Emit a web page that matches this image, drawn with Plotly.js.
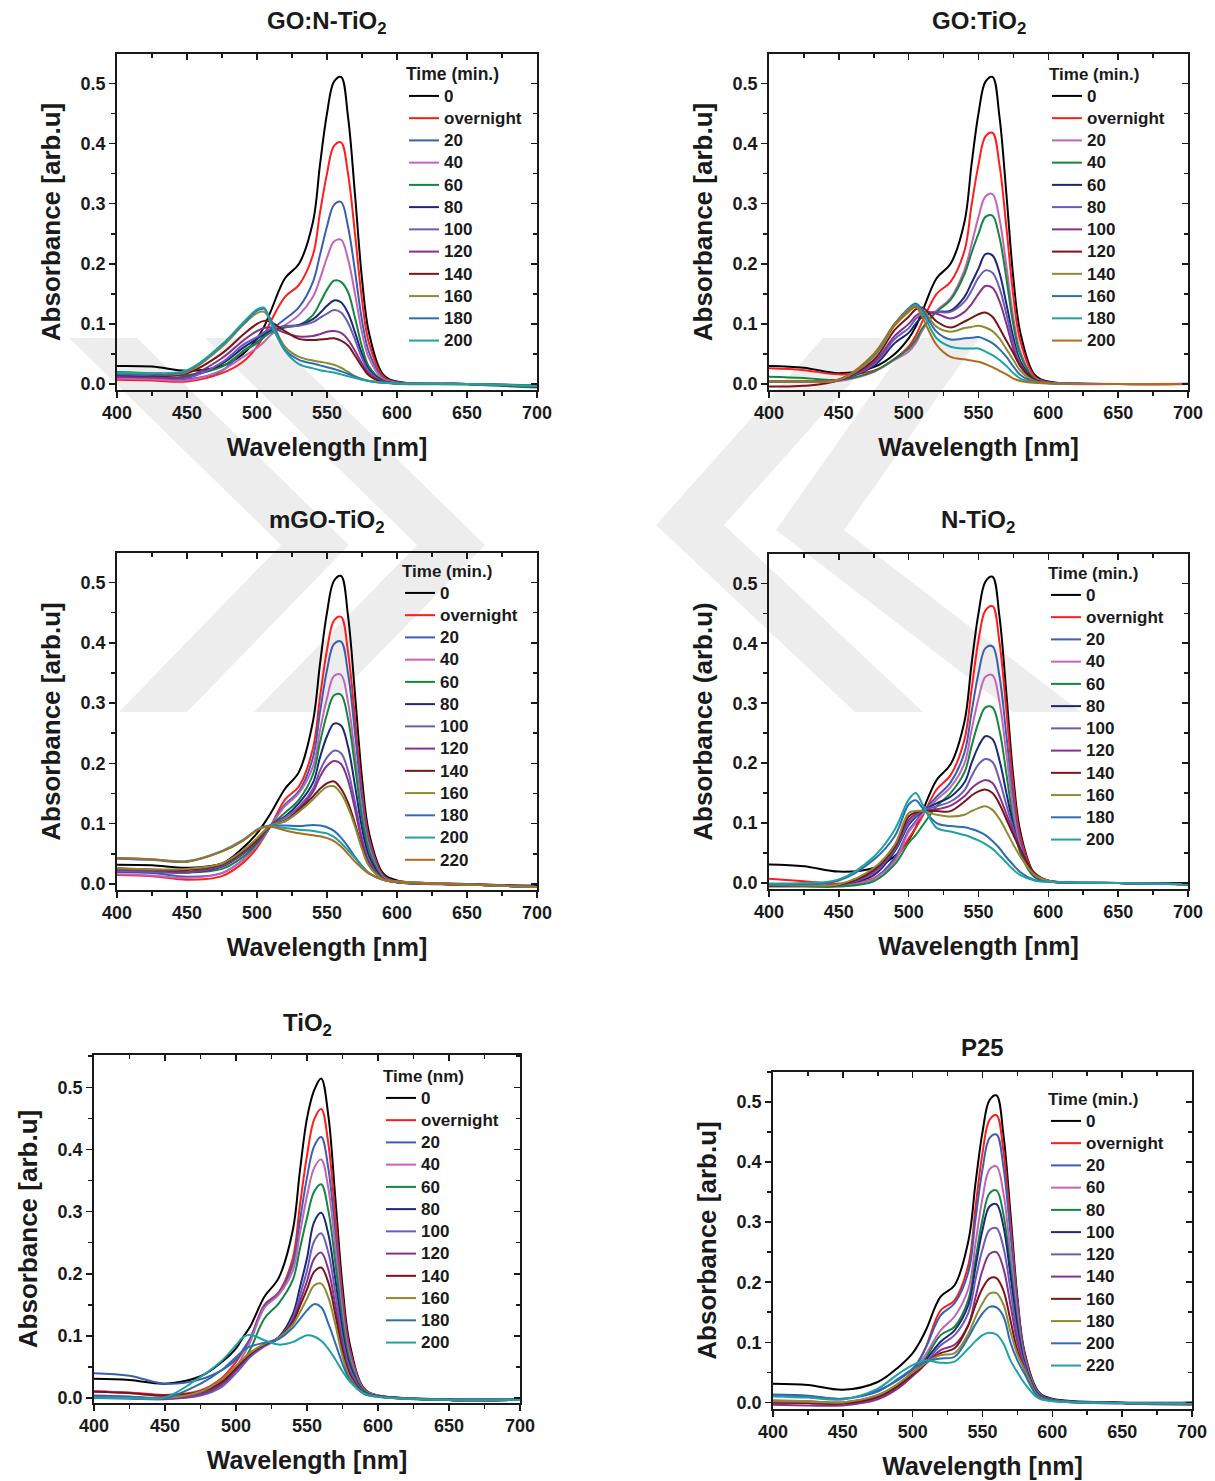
<!DOCTYPE html>
<html>
<head>
<meta charset="utf-8">
<script src="https://cdn.plot.ly/plotly-3.0.1.min.js"></script>
<style>
html,body{margin:0;padding:0;background:#fff}
#chart{width:1215px;height:1481px}
/* legend rows are spaced for a 14.8px font; glyphs are drawn a little larger, as in the original figure */
text.legendtext{font-size:17px !important}
text.legendtitletext{font-size:17.5px !important}
</style>
</head>
<body>
<div id="chart"></div>
<script>
// Wavelength grid (nm)
const WL = [400,425,450,475,490,500,505,510,520,530,540,545,550,555,560,565,570,575,580,590,600,650,700];

// ---- GO:N-TiO2 ----
const P1_LABELS = ['0','overnight','20','40','60','80','100','120','140','160','180','200'];
const P1_0   = [0.030,0.029,0.022,0.030,0.050,0.076,0.095,0.122,0.176,0.200,0.270,0.365,0.450,0.503,0.511,0.445,0.315,0.175,0.085,0.016,0.004,0.000,-0.002];
const P1_ov  = [0.007,0.006,0.004,0.018,0.037,0.062,0.081,0.105,0.145,0.165,0.215,0.285,0.350,0.396,0.402,0.350,0.250,0.140,0.068,0.013,0.003,0.000,-0.004];
const P1_20  = [0.010,0.009,0.008,0.022,0.055,0.070,0.080,0.090,0.108,0.128,0.170,0.215,0.262,0.298,0.303,0.262,0.188,0.106,0.053,0.010,0.003,0.000,-0.003];
const P1_40  = [0.009,0.008,0.006,0.023,0.045,0.060,0.070,0.082,0.098,0.115,0.145,0.175,0.210,0.237,0.240,0.208,0.150,0.086,0.043,0.008,0.002,0.000,-0.003];
const P1_60  = [0.020,0.018,0.015,0.029,0.054,0.068,0.078,0.086,0.094,0.098,0.115,0.135,0.157,0.172,0.170,0.153,0.110,0.062,0.029,0.006,0.001,-0.001,-0.006];
const P1_80  = [0.015,0.013,0.012,0.034,0.060,0.075,0.083,0.090,0.096,0.098,0.108,0.118,0.130,0.139,0.136,0.118,0.086,0.050,0.024,0.005,0.001,0.000,-0.004];
const P1_100 = [0.012,0.011,0.010,0.036,0.065,0.078,0.086,0.092,0.096,0.097,0.103,0.110,0.117,0.123,0.119,0.102,0.074,0.043,0.021,0.004,0.001,0.000,-0.004];
const P1_120 = [0.012,0.011,0.012,0.043,0.072,0.088,0.093,0.094,0.085,0.079,0.080,0.083,0.087,0.088,0.085,0.074,0.055,0.034,0.017,0.004,0.001,0.000,-0.004];
const P1_140 = [0.015,0.014,0.018,0.051,0.082,0.100,0.105,0.103,0.088,0.075,0.073,0.074,0.075,0.076,0.072,0.064,0.047,0.029,0.014,0.003,0.001,0.000,-0.004];
const P1_160 = [0.018,0.016,0.020,0.062,0.098,0.118,0.120,0.105,0.062,0.045,0.039,0.037,0.035,0.032,0.027,0.020,0.013,0.008,0.005,0.002,0.001,0.000,-0.003];
const P1_180 = [0.016,0.016,0.022,0.065,0.100,0.122,0.125,0.106,0.057,0.040,0.034,0.031,0.028,0.025,0.021,0.017,0.012,0.008,0.005,0.002,0.001,0.000,-0.003];
const P1_200 = [0.019,0.018,0.023,0.066,0.102,0.124,0.127,0.100,0.055,0.033,0.026,0.023,0.021,0.019,0.016,0.013,0.010,0.007,0.005,0.002,0.001,0.000,-0.003];

// ---- GO:TiO2 ----
const P2_LABELS = ['0','overnight','20','40','60','80','100','120','140','160','180','200'];
const P2_0   = [0.030,0.027,0.018,0.028,0.050,0.076,0.095,0.122,0.176,0.200,0.270,0.365,0.450,0.503,0.511,0.445,0.315,0.175,0.085,0.016,0.004,0.000,0.000];
const P2_ov  = [0.026,0.023,0.016,0.022,0.042,0.062,0.080,0.105,0.150,0.170,0.222,0.297,0.365,0.412,0.418,0.365,0.260,0.145,0.071,0.013,0.003,0.000,0.000];
const P2_20  = [0.005,0.004,0.005,0.020,0.040,0.054,0.068,0.090,0.122,0.143,0.190,0.232,0.278,0.312,0.316,0.275,0.196,0.110,0.054,0.010,0.002,0.000,0.001];
const P2_40  = [0.012,0.010,0.007,0.021,0.042,0.059,0.073,0.094,0.120,0.140,0.183,0.218,0.250,0.278,0.280,0.244,0.175,0.098,0.048,0.009,0.002,0.000,0.000];
const P2_60  = [0.004,0.004,0.007,0.030,0.068,0.085,0.100,0.112,0.120,0.122,0.145,0.168,0.192,0.216,0.214,0.185,0.133,0.077,0.038,0.007,0.002,0.000,0.000];
const P2_80  = [0.004,0.004,0.007,0.033,0.075,0.093,0.108,0.117,0.120,0.120,0.137,0.155,0.177,0.189,0.185,0.160,0.116,0.067,0.033,0.006,0.002,0.000,0.000];
const P2_100 = [0.004,0.004,0.007,0.036,0.080,0.100,0.113,0.120,0.117,0.109,0.120,0.133,0.150,0.163,0.160,0.138,0.100,0.058,0.029,0.006,0.002,0.000,0.000];
const P2_120 = [-0.004,-0.003,0.006,0.040,0.090,0.112,0.124,0.127,0.104,0.094,0.104,0.110,0.116,0.119,0.112,0.093,0.072,0.051,0.030,0.007,0.002,0.000,0.000];
const P2_140 = [0.004,0.004,0.007,0.045,0.097,0.120,0.128,0.124,0.095,0.087,0.093,0.095,0.097,0.094,0.088,0.076,0.058,0.040,0.022,0.005,0.002,0.000,0.000];
const P2_160 = [0.004,0.004,0.007,0.048,0.100,0.126,0.134,0.123,0.087,0.074,0.076,0.077,0.078,0.074,0.068,0.058,0.045,0.029,0.015,0.004,0.002,0.000,0.000];
const P2_180 = [0.004,0.004,0.007,0.048,0.100,0.124,0.131,0.118,0.076,0.062,0.059,0.059,0.059,0.054,0.048,0.040,0.030,0.018,0.009,0.003,0.001,0.000,0.000];
const P2_200 = [0.004,0.004,0.007,0.050,0.100,0.122,0.129,0.110,0.065,0.045,0.041,0.039,0.037,0.033,0.028,0.022,0.016,0.009,0.005,0.002,0.001,0.000,0.000];

// ---- mGO-TiO2 ----
const P3_LABELS = ['0','overnight','20','40','60','80','100','120','140','160','180','200','220'];
const P3_0   = [0.032,0.031,0.027,0.034,0.060,0.084,0.100,0.118,0.158,0.186,0.270,0.365,0.450,0.503,0.511,0.445,0.315,0.175,0.085,0.018,0.006,0.000,-0.003];
const P3_ov  = [0.015,0.013,0.007,0.013,0.035,0.060,0.078,0.097,0.140,0.162,0.225,0.310,0.388,0.437,0.443,0.385,0.275,0.155,0.077,0.015,0.004,-0.001,-0.005];
const P3_20  = [0.020,0.018,0.012,0.018,0.040,0.064,0.080,0.097,0.132,0.154,0.210,0.285,0.355,0.398,0.402,0.350,0.250,0.141,0.070,0.013,0.004,-0.001,-0.005];
const P3_40  = [0.016,0.014,0.010,0.018,0.040,0.064,0.080,0.097,0.129,0.151,0.195,0.255,0.308,0.345,0.347,0.302,0.215,0.121,0.060,0.011,0.003,-0.001,-0.005];
const P3_60  = [0.024,0.022,0.019,0.025,0.045,0.067,0.082,0.097,0.118,0.140,0.182,0.235,0.282,0.313,0.314,0.274,0.195,0.110,0.055,0.010,0.003,-0.001,-0.005];
const P3_80  = [0.022,0.020,0.019,0.029,0.050,0.070,0.084,0.098,0.112,0.134,0.168,0.210,0.245,0.266,0.263,0.228,0.163,0.093,0.046,0.009,0.003,-0.001,-0.005];
const P3_100 = [0.022,0.020,0.019,0.030,0.051,0.071,0.085,0.098,0.110,0.128,0.158,0.188,0.210,0.221,0.217,0.188,0.135,0.077,0.038,0.008,0.003,-0.001,-0.005];
const P3_120 = [0.024,0.022,0.020,0.031,0.052,0.072,0.086,0.098,0.106,0.125,0.153,0.178,0.196,0.204,0.199,0.172,0.124,0.071,0.036,0.008,0.003,-0.001,-0.005];
const P3_140 = [0.026,0.024,0.023,0.033,0.054,0.073,0.087,0.098,0.104,0.123,0.145,0.158,0.167,0.170,0.158,0.135,0.100,0.061,0.031,0.008,0.003,-0.001,-0.005];
const P3_160 = [0.026,0.024,0.025,0.034,0.056,0.076,0.088,0.098,0.104,0.120,0.140,0.152,0.161,0.162,0.150,0.127,0.095,0.058,0.030,0.008,0.003,-0.001,-0.005];
const P3_180 = [0.042,0.040,0.037,0.054,0.072,0.090,0.095,0.097,0.097,0.096,0.098,0.097,0.094,0.088,0.077,0.062,0.045,0.030,0.018,0.007,0.004,-0.001,-0.005];
const P3_200 = [0.043,0.041,0.038,0.055,0.073,0.090,0.095,0.096,0.093,0.090,0.088,0.086,0.084,0.078,0.068,0.056,0.043,0.029,0.018,0.007,0.004,-0.001,-0.005];
const P3_220 = [0.043,0.041,0.037,0.054,0.072,0.089,0.094,0.095,0.089,0.084,0.081,0.079,0.076,0.071,0.062,0.050,0.037,0.026,0.017,0.007,0.004,-0.001,-0.005];

// ---- N-TiO2 ----
const P4_LABELS = ['0','overnight','20','40','60','80','100','120','140','160','180','200'];
const P4_0   = [0.031,0.028,0.019,0.025,0.045,0.072,0.092,0.120,0.172,0.198,0.270,0.365,0.450,0.503,0.511,0.445,0.315,0.175,0.085,0.016,0.004,0.000,0.000];
const P4_ov  = [0.007,0.003,-0.001,0.008,0.039,0.074,0.092,0.112,0.156,0.180,0.240,0.322,0.405,0.455,0.462,0.402,0.287,0.160,0.078,0.015,0.004,0.000,-0.002];
const P4_20  = [-0.003,-0.004,-0.004,0.007,0.042,0.088,0.103,0.118,0.144,0.168,0.218,0.285,0.350,0.392,0.395,0.345,0.246,0.138,0.068,0.013,0.003,0.000,-0.002];
const P4_40  = [-0.003,-0.004,-0.004,0.007,0.036,0.085,0.100,0.115,0.139,0.160,0.200,0.255,0.308,0.344,0.347,0.302,0.215,0.121,0.060,0.011,0.003,0.000,-0.002];
const P4_60  = [-0.006,-0.006,-0.006,0.003,0.031,0.067,0.080,0.096,0.128,0.150,0.185,0.228,0.268,0.293,0.293,0.255,0.182,0.102,0.050,0.010,0.003,0.000,-0.002];
const P4_80  = [-0.004,-0.004,-0.003,0.013,0.053,0.097,0.110,0.120,0.133,0.144,0.168,0.200,0.228,0.245,0.240,0.205,0.150,0.095,0.055,0.012,0.003,0.000,-0.002];
const P4_100 = [-0.004,-0.004,-0.003,0.017,0.056,0.100,0.112,0.121,0.128,0.136,0.155,0.178,0.198,0.207,0.202,0.172,0.130,0.090,0.055,0.013,0.003,0.000,-0.002];
const P4_120 = [-0.004,-0.004,-0.003,0.019,0.058,0.105,0.115,0.121,0.123,0.129,0.145,0.158,0.167,0.172,0.167,0.145,0.115,0.085,0.055,0.014,0.004,0.000,-0.002];
const P4_140 = [-0.004,-0.004,-0.003,0.022,0.061,0.111,0.118,0.120,0.120,0.120,0.136,0.146,0.153,0.156,0.150,0.132,0.106,0.080,0.056,0.017,0.004,0.000,-0.002];
const P4_160 = [-0.003,-0.004,-0.002,0.025,0.064,0.117,0.120,0.120,0.114,0.111,0.114,0.120,0.125,0.128,0.122,0.107,0.086,0.064,0.044,0.014,0.004,0.000,-0.002];
const P4_180 = [-0.002,-0.002,0.004,0.039,0.078,0.131,0.138,0.125,0.100,0.095,0.093,0.090,0.086,0.080,0.070,0.058,0.043,0.030,0.018,0.005,0.002,0.000,-0.002];
const P4_200 = [-0.001,0.000,0.006,0.044,0.089,0.139,0.150,0.131,0.092,0.086,0.080,0.076,0.071,0.065,0.057,0.046,0.034,0.022,0.013,0.004,0.002,0.000,-0.002];

// ---- TiO2 ----
const P5_LABELS = ['0','overnight','20','40','60','80','100','120','140','160','180','200'];
const P5_0   = [0.031,0.029,0.023,0.035,0.058,0.080,0.098,0.115,0.163,0.193,0.270,0.365,0.450,0.495,0.514,0.455,0.320,0.180,0.088,0.016,0.004,-0.002,-0.002];
const P5_ov  = [0.011,0.009,0.005,0.012,0.032,0.058,0.075,0.095,0.150,0.170,0.225,0.310,0.390,0.448,0.465,0.410,0.292,0.165,0.081,0.015,0.004,-0.003,-0.003];
const P5_20  = [0.040,0.036,0.023,0.030,0.045,0.062,0.078,0.096,0.148,0.168,0.215,0.285,0.355,0.405,0.420,0.370,0.264,0.150,0.074,0.014,0.004,-0.002,-0.002];
const P5_40  = [0.011,0.008,0.003,0.010,0.028,0.050,0.068,0.090,0.145,0.166,0.205,0.265,0.325,0.370,0.384,0.338,0.242,0.137,0.068,0.013,0.004,-0.003,-0.003];
const P5_60  = [0.003,0.002,0.000,0.008,0.025,0.045,0.060,0.078,0.128,0.152,0.190,0.240,0.290,0.332,0.344,0.302,0.217,0.123,0.061,0.012,0.003,-0.003,-0.003];
const P5_80  = [0.001,0.000,-0.001,0.006,0.022,0.045,0.058,0.070,0.085,0.098,0.135,0.178,0.225,0.283,0.298,0.264,0.190,0.108,0.054,0.010,0.003,-0.003,-0.003];
const P5_100 = [0.000,-0.001,-0.002,0.004,0.018,0.040,0.053,0.066,0.083,0.096,0.128,0.165,0.205,0.252,0.265,0.234,0.169,0.096,0.048,0.009,0.003,-0.003,-0.003];
const P5_120 = [0.004,0.002,-0.001,0.006,0.022,0.045,0.057,0.069,0.085,0.096,0.124,0.155,0.188,0.224,0.234,0.207,0.149,0.085,0.042,0.008,0.003,-0.003,-0.003];
const P5_140 = [0.010,0.008,0.004,0.010,0.026,0.048,0.060,0.071,0.086,0.097,0.122,0.148,0.175,0.203,0.210,0.186,0.134,0.076,0.038,0.008,0.003,-0.003,-0.003];
const P5_160 = [0.002,0.001,0.000,0.010,0.030,0.052,0.063,0.073,0.087,0.097,0.118,0.138,0.160,0.181,0.184,0.162,0.118,0.067,0.034,0.007,0.002,-0.003,-0.003];
const P5_180 = [0.003,0.002,0.000,0.023,0.045,0.066,0.076,0.083,0.089,0.095,0.113,0.127,0.141,0.151,0.146,0.120,0.088,0.055,0.030,0.007,0.002,-0.003,-0.003];
const P5_200 = [0.001,0.000,0.001,0.034,0.060,0.085,0.098,0.102,0.093,0.086,0.090,0.096,0.101,0.099,0.092,0.079,0.062,0.043,0.027,0.008,0.002,-0.003,-0.003];

// ---- P25 ----
const P6_LABELS = ['0','overnight','20','60','80','100','120','140','160','180','200','220'];
const P6_0   = [0.031,0.029,0.021,0.034,0.059,0.082,0.100,0.123,0.176,0.195,0.270,0.365,0.450,0.503,0.511,0.445,0.315,0.175,0.085,0.018,0.006,0.000,0.000];
const P6_ov  = [0.003,0.002,0.000,0.012,0.030,0.052,0.070,0.095,0.153,0.170,0.230,0.325,0.415,0.470,0.478,0.418,0.298,0.170,0.082,0.016,0.005,-0.001,-0.002];
const P6_20  = [0.013,0.011,0.006,0.020,0.038,0.056,0.072,0.094,0.145,0.165,0.218,0.305,0.388,0.440,0.446,0.392,0.280,0.162,0.079,0.016,0.005,-0.001,-0.002];
const P6_60  = [0.003,0.002,0.000,0.012,0.030,0.050,0.064,0.082,0.120,0.143,0.190,0.265,0.340,0.388,0.393,0.348,0.250,0.146,0.073,0.015,0.004,-0.001,-0.002];
const P6_80  = [0.001,0.000,-0.001,0.010,0.028,0.048,0.060,0.076,0.112,0.126,0.172,0.238,0.305,0.348,0.353,0.313,0.226,0.133,0.068,0.014,0.004,-0.001,-0.002];
const P6_100 = [0.000,-0.001,-0.002,0.008,0.026,0.046,0.057,0.072,0.101,0.120,0.163,0.225,0.287,0.326,0.330,0.293,0.212,0.125,0.066,0.013,0.004,-0.001,-0.002];
const P6_120 = [0.000,-0.001,-0.002,0.008,0.026,0.045,0.055,0.068,0.095,0.112,0.150,0.205,0.255,0.287,0.290,0.258,0.188,0.112,0.062,0.012,0.004,-0.001,-0.002];
const P6_140 = [-0.004,-0.005,-0.005,0.005,0.024,0.044,0.054,0.066,0.087,0.096,0.130,0.175,0.220,0.247,0.250,0.223,0.163,0.100,0.058,0.011,0.003,-0.002,-0.004];
const P6_160 = [0.000,-0.001,-0.002,0.009,0.028,0.047,0.056,0.066,0.082,0.090,0.129,0.162,0.190,0.206,0.207,0.186,0.137,0.086,0.055,0.010,0.003,-0.001,-0.002];
const P6_180 = [0.002,0.001,0.000,0.012,0.032,0.050,0.058,0.067,0.079,0.082,0.115,0.142,0.165,0.181,0.182,0.163,0.118,0.080,0.055,0.010,0.003,-0.001,-0.002];
const P6_200 = [0.012,0.010,0.006,0.018,0.040,0.056,0.063,0.068,0.073,0.076,0.109,0.130,0.148,0.159,0.158,0.143,0.100,0.070,0.048,0.009,0.003,-0.001,-0.002];
const P6_220 = [0.010,0.008,0.005,0.023,0.048,0.062,0.067,0.070,0.066,0.068,0.090,0.102,0.112,0.116,0.113,0.098,0.070,0.050,0.032,0.007,0.002,-0.001,-0.002];

// ---- styling ----
const C = {k:'#000000', r:'#ff1c1c', b:'#3a5eb0', m:'#c463ba', g:'#13873d', n:'#1c2776', v:'#6c5cb7', p:'#87308d',
           d:'#7b1318', o:'#8d8b32', c:'#2e6db3', t:'#1ea2a2', w:'#b06c1e'};
const FIG_W = 1215, FIG_H = 1481;
const FONT = 'Arial, "Liberation Sans", Helvetica, sans-serif';
const INK = '#1a1a1a';

const panels = [
  {title:'GO:N-TiO<sub>2</sub>', ytitle:'Absorbance [arb.u]', ltitle:'Time (min.)', labels:P1_LABELS,
   series:[P1_0,P1_ov,P1_20,P1_40,P1_60,P1_80,P1_100,P1_120,P1_140,P1_160,P1_180,P1_200],
   colors:['k','r','b','m','g','n','v','p','d','o','c','t'],
   px:[117,537], py:[54,390], yr:[-0.010,0.549], tx:327, ty:22, lx:404, ly:59},
  {title:'GO:TiO<sub>2</sub>', ytitle:'Absorbance [arb.u]', ltitle:'Time (min.)', labels:P2_LABELS,
   series:[P2_0,P2_ov,P2_20,P2_40,P2_60,P2_80,P2_100,P2_120,P2_140,P2_160,P2_180,P2_200],
   colors:['k','r','m','g','n','v','p','d','o','c','t','w'],
   px:[769,1188], py:[54,390], yr:[-0.010,0.549], tx:979, ty:22, lx:1047, ly:59},
  {title:'mGO-TiO<sub>2</sub>', ytitle:'Absorbance [arb.u]', ltitle:'Time (min.)', labels:P3_LABELS,
   series:[P3_0,P3_ov,P3_20,P3_40,P3_60,P3_80,P3_100,P3_120,P3_140,P3_160,P3_180,P3_200,P3_220],
   colors:['k','r','b','m','g','n','v','p','d','o','c','t','w'],
   px:[117,537], py:[553,890], yr:[-0.010,0.549], tx:327, ty:521, lx:400, ly:556},
  {title:'N-TiO<sub>2</sub>', ytitle:'Absorbance (arb.u)', ltitle:'Time (min.)', labels:P4_LABELS,
   series:[P4_0,P4_ov,P4_20,P4_40,P4_60,P4_80,P4_100,P4_120,P4_140,P4_160,P4_180,P4_200],
   colors:['k','r','b','m','g','n','v','p','d','o','c','t'],
   px:[769,1188], py:[554,889], yr:[-0.010,0.549], tx:978, ty:521, lx:1046, ly:558},
  {title:'TiO<sub>2</sub>', ytitle:'Absorbance [arb.u]', ltitle:'Time (nm)', labels:P5_LABELS,
   series:[P5_0,P5_ov,P5_20,P5_40,P5_60,P5_80,P5_100,P5_120,P5_140,P5_160,P5_180,P5_200],
   colors:['k','r','b','m','g','n','v','p','d','o','c','t'],
   px:[94,520], py:[1055,1403], yr:[-0.008,0.552], tx:307, ty:1024, lx:381, ly:1061},
  {title:'P25', ytitle:'Absorbance [arb.u]', ltitle:'Time (min.)', labels:P6_LABELS,
   series:[P6_0,P6_ov,P6_20,P6_60,P6_80,P6_100,P6_120,P6_140,P6_160,P6_180,P6_200,P6_220],
   colors:['k','r','b','m','g','n','v','p','d','o','c','t'],
   px:[773,1192], py:[1072,1409], yr:[-0.011,0.550], tx:982, ty:1047, lx:1046, ly:1084}
];

const fx = x => x / FIG_W;
const fy = y => 1 - y / FIG_H;

const traces = [];
const layout = {
  width: FIG_W, height: FIG_H,
  margin: {l:0, r:0, t:0, b:0},
  paper_bgcolor: '#ffffff', plot_bgcolor: 'rgba(0,0,0,0)',
  font: {family: FONT, color: INK},
  showlegend: true,
  annotations: [], shapes: []
};

const tickFont = {family: FONT, size: 18, color: INK, weight: 'bold'};
const xTitleFont = {family: FONT, size: 25, color: INK, weight: 'bold'};
const yTitleFont = {family: FONT, size: 26, color: INK, weight: 'bold'};

panels.forEach((p, i) => {
  const n = i + 1;
  const xs = n === 1 ? '' : String(n);
  const xo = String(n + 6);
  const legKey = n === 1 ? 'legend' : 'legend' + n;
  const dx = [fx(p.px[0]), fx(p.px[1])];
  const dy = [fy(p.py[1]), fy(p.py[0])];

  p.series.forEach((ys, j) => {
    traces.push({
      type: 'scatter', mode: 'lines', x: WL, y: ys, name: p.labels[j],
      xaxis: 'x' + xs, yaxis: 'y' + xs, legend: legKey,
      line: {color: C[p.colors[j]], width: 2, shape: 'spline', smoothing: 1},
      hoverinfo: 'skip'
    });
  });
  // empty trace so the mirrored (top/right) tick axes are drawn
  traces.push({type:'scatter', mode:'lines', x:[], y:[], xaxis:'x'+xo, yaxis:'y'+xo, showlegend:false, hoverinfo:'skip'});

  const common = {showgrid:false, zeroline:false, linecolor:INK, tickcolor:INK, tickwidth:1.6};
  layout['xaxis' + xs] = Object.assign({}, common, {
    domain: dx, anchor: 'y' + xs, range: [400, 700], tick0: 400, dtick: 50,
    showline: true, linewidth: 1.8, mirror: true, ticks: 'outside', ticklen: 6,
    tickfont: tickFont,
    minor: {dtick: 25, tick0: 400, ticks: 'outside', ticklen: 4, tickcolor: INK, tickwidth: 1.6},
    title: {text: 'Wavelength [nm]', font: xTitleFont, standoff: 16}
  });
  layout['yaxis' + xs] = Object.assign({}, common, {
    domain: dy, anchor: 'x' + xs, range: p.yr, tick0: 0, dtick: 0.1, tickformat: '.1f',
    showline: true, linewidth: 1.8, mirror: true, ticks: 'outside', ticklen: 6,
    tickfont: tickFont,
    minor: {dtick: 0.05, tick0: 0, ticks: 'outside', ticklen: 4, tickcolor: INK, tickwidth: 1.6},
    title: {text: p.ytitle, font: yTitleFont, standoff: 12}
  });
  layout['xaxis' + xo] = Object.assign({}, common, {
    domain: dx, anchor: 'y' + xo, overlaying: 'x' + xs, side: 'top', range: [400, 700],
    tick0: 400, dtick: 50, showline: false, ticks: 'inside', ticklen: 6, showticklabels: false,
    minor: {dtick: 25, tick0: 400, ticks: 'inside', ticklen: 4, tickcolor: INK, tickwidth: 1.6}
  });
  layout['yaxis' + xo] = Object.assign({}, common, {
    domain: dy, anchor: 'x' + xo, overlaying: 'y' + xs, side: 'right', range: p.yr,
    tick0: 0, dtick: 0.1, showline: false, ticks: 'inside', ticklen: 6, showticklabels: false,
    minor: {dtick: 0.05, tick0: 0, ticks: 'inside', ticklen: 4, tickcolor: INK, tickwidth: 1.6}
  });

  layout[legKey] = {
    x: fx(p.lx), y: fy(p.ly), xanchor: 'left', yanchor: 'top',
    bgcolor: 'rgba(0,0,0,0)', borderwidth: 0, tracegroupgap: 0,
    font: {family: FONT, size: 14.8, color: INK, weight: 'bold'},
    title: {text: p.ltitle, font: {family: FONT, size: 16, color: INK, weight: 'bold'}}
  };

  layout.annotations.push({
    xref: 'paper', yref: 'paper', x: fx(p.tx), y: fy(p.ty), xanchor: 'center', yanchor: 'middle',
    text: p.title, showarrow: false, font: {family: FONT, size: 24, color: INK, weight: 'bold'}
  });
});

// light-grey watermark: two pairs of facing chevrons (top centre x, apex x, apex y, bottom centre x)
const WM_TOP = 338, WM_BOT = 712, WM_HALF = 34;
[[103, 315, 545, 153], [239, 451, 545, 288], [857, 690, 525, 889], [945, 810, 530, 1047]].forEach(([tx, ax, ay, bx]) => {
  const pts = [[tx - WM_HALF, WM_TOP], [tx + WM_HALF, WM_TOP], [ax + WM_HALF, ay],
               [bx + WM_HALF, WM_BOT], [bx - WM_HALF, WM_BOT], [ax - WM_HALF, ay]];
  const path = pts.map((q, k) => (k ? 'L' : 'M') + fx(q[0]).toFixed(4) + ',' + fy(q[1]).toFixed(4)).join(' ') + ' Z';
  layout.shapes.push({type:'path', xref:'paper', yref:'paper', path: path,
    fillcolor:'rgba(0,0,0,0.07)', line:{width:0}, layer:'below'});
});

Plotly.newPlot('chart', traces, layout, {staticPlot: true, displayModeBar: false}).then(() => {
  // enlarge legend glyphs in every legend (rows keep their compact spacing) and let text run past the clip box
  document.querySelectorAll('#chart .infolayer > g[class^="legend"]').forEach(leg => {
    leg.querySelectorAll('text').forEach(t => {
      const isTitle = (t.getAttribute('class') || '').indexOf('legendtitletext') >= 0;
      t.style.setProperty('font-size', isTitle ? '17.5px' : '17px', 'important');
    });
    leg.querySelectorAll('.scrollbox').forEach(g => g.removeAttribute('clip-path'));
  });
});
</script>
</body>
</html>
